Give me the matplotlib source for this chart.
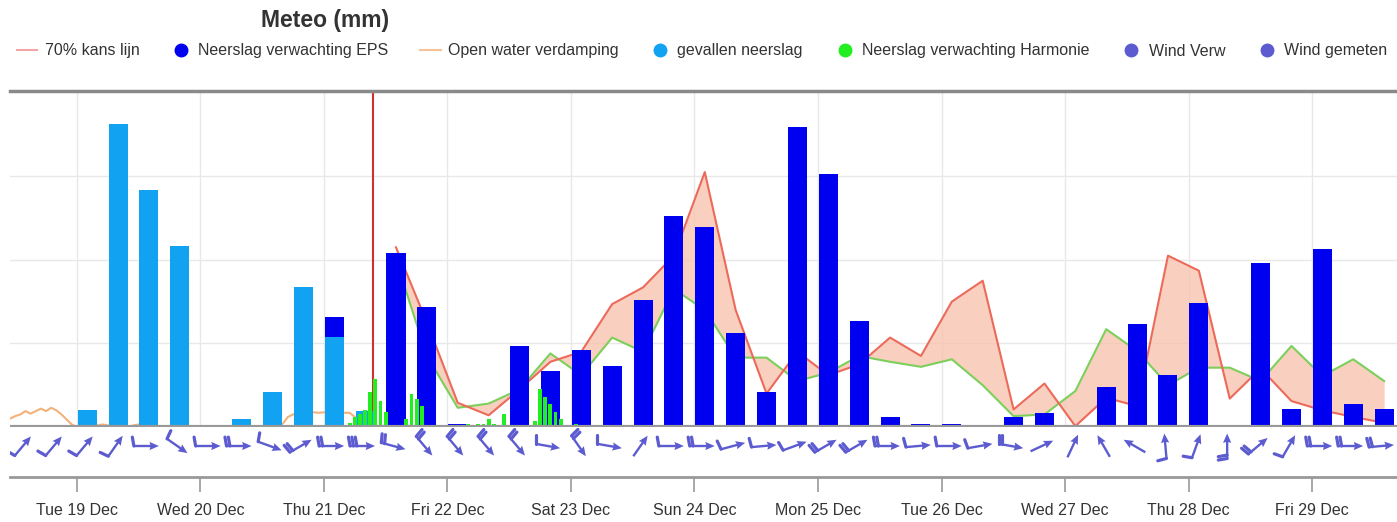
import numpy as np
import matplotlib.pyplot as plt
from matplotlib.lines import Line2D
from matplotlib.collections import LineCollection

plt.rcParams['font.family'] = ['Liberation Sans', 'DejaVu Sans']

# time axis: hours after Tue 19 Dec 00:00
day_ticks = np.arange(0, 241, 24)
day_labels = ['Tue 19 Dec', 'Wed 20 Dec', 'Thu 21 Dec', 'Fri 22 Dec', 'Sat 23 Dec',
              'Sun 24 Dec', 'Mon 25 Dec', 'Tue 26 Dec', 'Wed 27 Dec', 'Thu 28 Dec',
              'Fri 29 Dec']
now_h = 57.5

# gevallen neerslag (6-hourly)
obs_t = np.arange(2, 57, 6)
obs = [0.20, 3.63, 2.84, 2.17, 0.0, 0.10, 0.42, 1.67, 1.08, 0.19]

# neerslag verwachting EPS (6-hourly)
eps_t = np.arange(50, 255, 6)
eps = [1.32, 0.0, 2.08, 1.43, 0.04, 0.0, 0.97, 0.67, 0.92, 0.73, 1.52, 2.53,
       2.39, 1.13, 0.42, 3.59, 3.03, 1.27, 0.12, 0.04, 0.04, 0.0, 0.12, 0.17,
       0.0, 0.48, 1.23, 0.62, 1.48, 0.0, 1.96, 0.22, 2.13, 0.28, 0.22]

# neerslag verwachting Harmonie (hourly)
harm_t = np.arange(52, 98)
harm = [0.0, 0.05, 0.12, 0.15, 0.2, 0.42, 0.57, 0.31, 0.18, 0.0, 0.0, 0.0,
        0.1, 0.4, 0.33, 0.25, 0.0, 0.0, 0.0, 0.0, 0.0, 0.0, 0.02, 0.02,
        0.03, 0.02, 0.03, 0.04, 0.1, 0.03, 0.02, 0.15, 0.0, 0.0, 0.0, 0.0,
        0.0, 0.07, 0.46, 0.36, 0.28, 0.18, 0.1, 0.0, 0.0, 0.03]

# 70% kans lijn and lower band line
band_t = np.arange(62, 255, 6)
kans70 = [2.15, 1.25, 0.29, 0.14, 0.45, 0.78, 0.90, 1.47, 1.67, 2.05, 3.05,
          1.40, 0.40, 0.90, 0.62, 0.75, 1.07, 0.85, 1.50, 1.75, 0.21, 0.52,
          0.01, 0.35, 0.25, 2.05, 1.87, 0.34, 0.70, 0.31, 0.20, 0.12, 0.05]
band_low = [2.0, 0.85, 0.23, 0.28, 0.45, 0.88, 0.62, 1.07, 0.90, 1.65, 1.40,
            0.83, 0.83, 0.55, 0.65, 0.85, 0.78, 0.72, 0.81, 0.50, 0.13, 0.15,
            0.43, 1.17, 0.91, 0.50, 0.71, 0.71, 0.55, 0.97, 0.61, 0.81, 0.55]

# open water verdamping
evap_t = [-13, -12, -11, -10, -9, -8, -7, -6, -5, -4, -3, -2, -1, 0,
          3, 4, 5, 6, 7, 10, 11, 12, 13,
          39, 40, 41, 42, 43, 45, 47, 49, 51, 53, 54, 55, 56]
evap = [0.10, 0.13, 0.15, 0.19, 0.16, 0.19, 0.22, 0.19, 0.23, 0.20, 0.15, 0.09, 0.03, 0.0,
        0.0, 0.02, 0.03, 0.02, 0.0, 0.0, 0.02, 0.03, 0.0,
        0.0, 0.04, 0.12, 0.15, 0.17, 0.18, 0.17, 0.18, 0.17, 0.17, 0.12, 0.05, 0.0]

# wind: direction the arrow points to (screen degrees) and number of feathers
wind_t = np.arange(-10.5, 254, 6)
wind_dir = [50, 50, 50, 55, 0, -35, 0, 0, -20, 30, 0, 0, -15, -50, -50,
            -50, -50, -10, -55, -10, 55, 0, 0, 15, 5, 20, 30, 30, 0, 5,
            0, 10, -10, 25, 65, 120, 150, 95, 70, 90, 40, 60, 0, 0, 5]
wind_n = [1, 1, 1, 1, 1, 1, 1, 2, 1, 2, 2, 3, 2, 2, 2,
          2, 2, 1, 2, 1, 0, 1, 2, 1, 1, 1, 2, 2, 2, 1,
          1, 1, 2, 0, 0, 0, 0, 1, 1, 2, 2, 1, 2, 2, 2]

c_eps = '#0000f0'
c_obs = '#12a2f2'
c_harm = '#22ee22'
c_red = '#ec6a5a'
c_green = '#7ccf5a'
c_fill = '#f8c3b0'
c_evap = '#f2b27a'
c_wind = '#5c5cd0'
c_text = '#333333'

W, H = 1397, 522
fig = plt.figure(figsize=(W / 100, H / 100), dpi=100)
x0, x1 = -13.0, 256.5

ax = fig.add_axes([10 / W, 1 - 427 / H, 1387 / W, 336 / H])
ax.set_xlim(x0, x1)
ax.set_ylim(0, 4.02)
for s in ['left', 'right', 'bottom']:
    ax.spines[s].set_visible(False)
ax.spines['top'].set_color('#8a8a8a')
ax.spines['top'].set_linewidth(2.5)
ax.set_xticks(day_ticks)
ax.set_yticks([1, 2, 3])
ax.tick_params(length=0, labelbottom=False, labelleft=False)
ax.grid(True, color='#e8e8e8', lw=1)
ax.set_axisbelow(True)

ax.fill_between(band_t, band_low, kans70, color=c_fill, alpha=0.8, lw=0, zorder=1)
ax.plot(band_t, band_low, color=c_green, lw=1.5, zorder=1.5)
ax.plot(band_t, kans70, color=c_red, lw=1.5, zorder=1.6)
ax.plot(evap_t, evap, color=c_evap, lw=1.5, zorder=1.7)
ax.axvline(now_h, color='#d03030', lw=1.5, zorder=2)
ax.bar(eps_t, eps, width=3.7, color=c_eps, zorder=3)
ax.bar(obs_t, obs, width=3.7, color=c_obs, zorder=4)
ax.bar(harm_t, harm, width=0.75, color=c_harm, zorder=5)
ax.axhline(0, color='#999999', lw=3, zorder=6)

# wind row
axw = fig.add_axes([10 / W, 1 - 477 / H, 1387 / W, 49 / H])
px_h = 1387 / (x1 - x0)
axw.set_xlim(x0, x1)
axw.set_ylim(0, 49 / px_h)
for s in ['left', 'right', 'top']:
    axw.spines[s].set_visible(False)
axw.spines['bottom'].set_color('#999999')
axw.spines['bottom'].set_linewidth(2)
axw.set_yticks([])
axw.set_xticks(day_ticks)
axw.set_xticklabels(day_labels)
axw.tick_params(axis='x', length=11, width=1.2, color='#999999', pad=8,
                labelsize=11.5, labelcolor=c_text)

yc = 31 / px_h
L = 25 / px_h
F = 9 / px_h
sp = 3.4 / px_h
th = np.radians(wind_dir)
dx, dy = L * np.cos(th), L * np.sin(th)
tx, ty = wind_t - dx / 2, yc - dy / 2
axw.quiver(tx, ty, dx, dy, angles='xy', scale_units='xy', scale=1,
           width=0.0017, headwidth=3.5, headlength=4, headaxislength=3.6,
           color=c_wind)
segs = []
for i in range(len(wind_t)):
    fa = th[i] + np.radians(100)
    for j in range(wind_n[i]):
        bx = tx[i] + j * sp * np.cos(th[i])
        by = ty[i] + j * sp * np.sin(th[i])
        segs.append([(bx, by), (bx + F * np.cos(fa), by + F * np.sin(fa))])
axw.add_collection(LineCollection(segs, colors=c_wind, linewidths=2.3,
                                  capstyle='round'))

# title and legend
fig.text(325 / W, 1 - 21 / H, 'Meteo (mm)', ha='center', va='center',
         fontsize=16.5, fontweight='bold', color=c_text)
handles = [
    Line2D([], [], color='#f4a6a6', lw=1.5),
    Line2D([], [], color=c_eps, marker='o', ls='none', markersize=9),
    Line2D([], [], color='#f6c398', lw=1.5),
    Line2D([], [], color=c_obs, marker='o', ls='none', markersize=9),
    Line2D([], [], color=c_harm, marker='o', ls='none', markersize=9),
    Line2D([], [], color=c_wind, marker='o', ls='none', markersize=9),
    Line2D([], [], color=c_wind, marker='o', ls='none', markersize=9),
]
labels = ['70% kans lijn', 'Neerslag verwachting EPS', 'Open water verdamping',
          'gevallen neerslag', 'Neerslag verwachting Harmonie', 'Wind Verw',
          'Wind gemeten']
leg = fig.legend(handles, labels, loc='center', bbox_to_anchor=(702 / W, 1 - 51 / H),
                 ncol=7, frameon=False, fontsize=11.5, handlelength=1.3,
                 handletextpad=0.45, columnspacing=1.95, borderpad=0)
for t in leg.get_texts():
    t.set_color(c_text)

fig.savefig('out.png', dpi=100)
